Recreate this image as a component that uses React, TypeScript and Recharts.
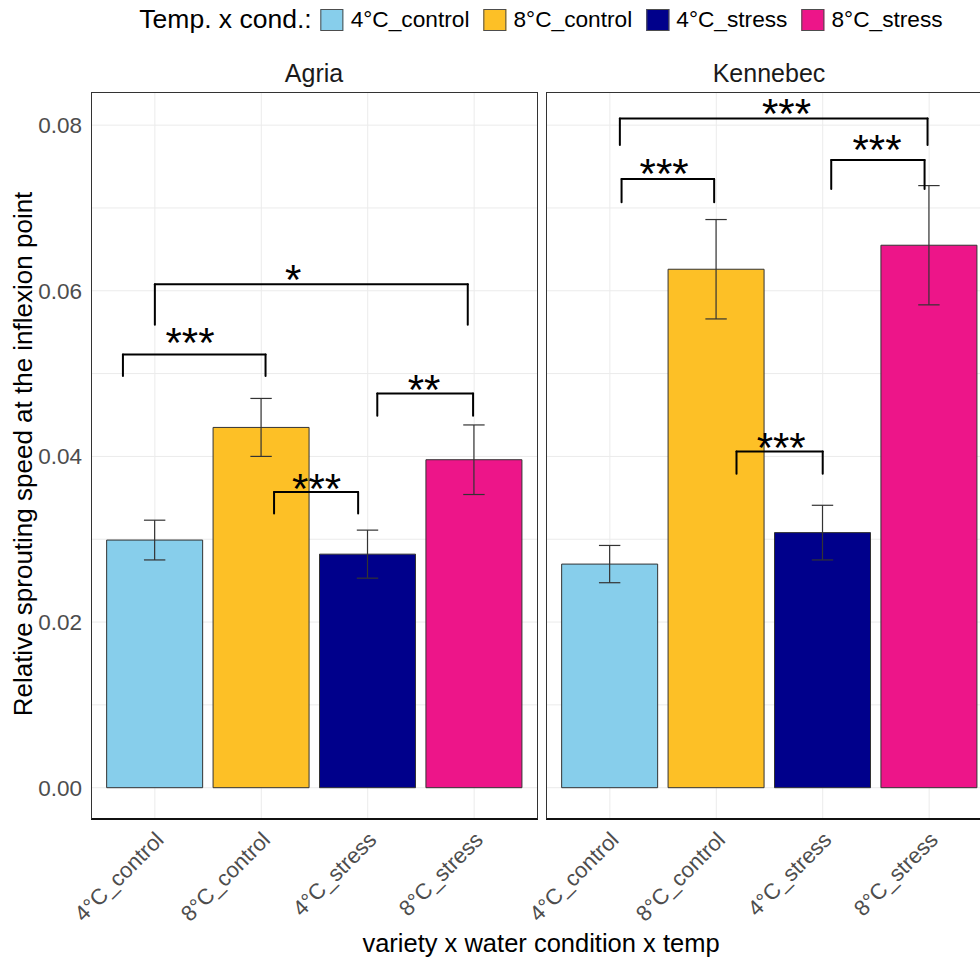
import * as React from "react";
import {
  ComposedChart, Bar, Cell, ErrorBar, XAxis, YAxis, CartesianGrid, ReferenceLine, ReferenceDot,
} from "recharts";

const FONT = "'Liberation Sans', Arial, Helvetica, sans-serif";

const categories = ["4°C_control", "8°C_control", "4°C_stress", "8°C_stress"];
const fills = ["#87CEEB", "#FDC026", "#00008B", "#ED1589"];

const agriaMean = [0.0299, 0.0435, 0.0282, 0.0396];
const agriaSe = [0.0024, 0.0035, 0.0029, 0.0042];
const kennebecMean = [0.027, 0.0626, 0.0308, 0.0655];
const kennebecSe = [0.00225, 0.006, 0.0033, 0.0072];

const yTicks = [0, 0.02, 0.04, 0.06, 0.08];
const yGrid = [0, 0.01, 0.02, 0.03, 0.04, 0.05, 0.06, 0.07, 0.08];

// significance brackets (x in category units, y in data units)
const agriaFrom = [-0.3, 0, 1.12, 2.09];
const agriaTo = [1.04, 2.94, 1.91, 2.99];
const agriaTop = [0.0523, 0.0608, 0.0357, 0.0476];
const agriaTip = [0.0497, 0.0559, 0.0331, 0.0449];
const agriaStars = ["***", "*", "***", "**"];
const agriaStarX = [0.33, 1.3, 1.52, 2.53];
const agriaStarY = [0.0535, 0.061, 0.0358, 0.0478];

const kennebecFrom = [0.094, 0.11, 2.08, 1.19];
const kennebecTo = [2.985, 0.98, 2.957, 2.0];
const kennebecTop = [0.0808, 0.0735, 0.0758, 0.0406];
const kennebecTip = [0.0776, 0.0707, 0.0723, 0.0379];
const kennebecStars = ["***", "***", "***", "***"];
const kennebecStarX = [1.66, 0.51, 2.51, 1.61];
const kennebecStarY = [0.0811, 0.0738, 0.0768, 0.0408];

const PLOT_TOP = 92;
const PLOT_W = 447;
const PLOT_H = 728;
const AXIS_W = 91;
const XAXIS_H = 120;
const TOP_PAD = 40; // headroom so the star labels are not clipped by the svg
const K_PAD = 70; // room on the left of the 2nd panel so its tick labels aren't clipped

function XTick(props: any) {
  const { x, y, payload } = props;
  const ax = x - 1;
  const ay = y + 2;
  return (
    <text
      x={ax}
      y={ay}
      dy="0.72em"
      textAnchor="end"
      transform={`rotate(-45, ${ax}, ${ay})`}
      fill="#4D4D4D"
      fontSize={22}
      fontFamily={FONT}
    >
      {categories[payload.value]}
    </text>
  );
}

type PanelProps = {
  means: number[];
  ses: number[];
  from: number[];
  to: number[];
  top: number[];
  tip: number[];
  stars: string[];
  starX: number[];
  starY: number[];
  showY: boolean;
};

function Panel({ means, ses, from, to, top, tip, stars, starX, starY, showY }: PanelProps) {
  const data = categories.map((c, i) => ({ x: i, name: c, mean: means[i], se: ses[i] }));
  const lineProps = { stroke: "#000", strokeWidth: 2, strokeLinecap: "round" as const, ifOverflow: "visible" as const };
  const padLeft = showY ? 0 : K_PAD;
  return (
    <ComposedChart
      width={(showY ? AXIS_W : 0) + padLeft + PLOT_W}
      height={TOP_PAD + PLOT_H + XAXIS_H}
      data={data}
      margin={{ top: TOP_PAD, right: 0, bottom: 0, left: padLeft }}
    >
      <CartesianGrid stroke="#EBEBEB" strokeWidth={1} horizontalValues={yGrid} verticalValues={[0, 1, 2, 3]} />
      <XAxis
        dataKey="x"
        type="number"
        domain={[-0.6, 3.6]}
        ticks={[0, 1, 2, 3]}
        interval={0}
        allowDataOverflow
        axisLine={false}
        tickLine={false}
        height={XAXIS_H}
        tick={<XTick />}
      />
      <YAxis
        type="number"
        domain={[-0.0039, 0.084]}
        ticks={yTicks}
        allowDataOverflow
        hide={!showY}
        width={AXIS_W}
        axisLine={false}
        tickLine={false}
        tickSize={4}
        tickMargin={5}
        tickFormatter={(v: number) => v.toFixed(2)}
        tick={{ fill: "#4D4D4D", fontSize: 22.5, fontFamily: FONT }}
      />
      <Bar dataKey="mean" barSize={96} stroke="#333" strokeWidth={1} isAnimationActive={false}>
        {data.map((d, i) => (
          <Cell key={d.name} fill={fills[i]} />
        ))}
        <ErrorBar dataKey="se" direction="y" width={10.7} stroke="#333" strokeWidth={1.2} />
      </Bar>
      {from.map((f, i) => (
        <React.Fragment key={"b" + i}>
          <ReferenceLine segment={[{ x: f, y: tip[i] }, { x: f, y: top[i] }]} {...lineProps} />
          <ReferenceLine segment={[{ x: f, y: top[i] }, { x: to[i], y: top[i] }]} {...lineProps} />
          <ReferenceLine segment={[{ x: to[i], y: top[i] }, { x: to[i], y: tip[i] }]} {...lineProps} />
          <ReferenceDot
            x={starX[i]}
            y={starY[i]}
            r={0}
            fill="none"
            stroke="none"
            ifOverflow="visible"
            label={{ value: stars[i], position: "top", offset: -12, fontSize: 42, fill: "#000", fontFamily: FONT }}
          />
        </React.Fragment>
      ))}
    </ComposedChart>
  );
}

function Legend() {
  return (
    <div
      style={{
        position: "absolute",
        top: 4,
        left: 541,
        transform: "translateX(-50%)",
        display: "flex",
        alignItems: "center",
        whiteSpace: "nowrap",
        fontFamily: FONT,
        color: "#000",
      }}
    >
      <span style={{ fontSize: 26.5, marginRight: 9 }}>Temp. x cond.:</span>
      {categories.map((c, i) => (
        <React.Fragment key={c}>
          <span
            style={{
              display: "inline-block",
              width: 23,
              height: 22,
              boxSizing: "border-box",
              background: fills[i],
              border: "1px solid #4D4D4D",
              marginRight: 7,
            }}
          />
          <span style={{ fontSize: 22.7, marginRight: i < 3 ? 14 : 0 }}>{c}</span>
        </React.Fragment>
      ))}
    </div>
  );
}

const panelBorder: React.CSSProperties = {
  position: "absolute",
  top: PLOT_TOP,
  width: PLOT_W,
  height: PLOT_H,
  boxSizing: "border-box",
  border: "1px solid #333",
  borderBottom: "2px solid #111",
  pointerEvents: "none",
};

export default function App() {
  return (
    <div
      style={{
        position: "absolute",
        left: 0,
        top: 0,
        width: 980,
        height: 959,
        overflow: "hidden",
        background: "#fff",
        fontFamily: FONT,
      }}
    >
      <Legend />
      <div style={{ position: "absolute", left: 0, top: PLOT_TOP - TOP_PAD }}>
        <Panel
          means={agriaMean}
          ses={agriaSe}
          from={agriaFrom}
          to={agriaTo}
          top={agriaTop}
          tip={agriaTip}
          stars={agriaStars}
          starX={agriaStarX}
          starY={agriaStarY}
          showY
        />
      </div>
      <div style={{ position: "absolute", left: 546 - K_PAD, top: PLOT_TOP - TOP_PAD }}>
        <Panel
          means={kennebecMean}
          ses={kennebecSe}
          from={kennebecFrom}
          to={kennebecTo}
          top={kennebecTop}
          tip={kennebecTip}
          stars={kennebecStars}
          starX={kennebecStarX}
          starY={kennebecStarY}
          showY={false}
        />
      </div>
      <div style={{ ...panelBorder, left: AXIS_W }} />
      <div style={{ ...panelBorder, left: 546 }} />
      <svg width={980} height={959} style={{ position: "absolute", left: 0, top: 0, pointerEvents: "none" }}>
        <text x={314} y={82} textAnchor="middle" fontSize={25} fill="#1A1A1A" fontFamily={FONT}>Agria</text>
        <text x={769} y={82} textAnchor="middle" fontSize={25} fill="#1A1A1A" fontFamily={FONT}>Kennebec</text>
        <text x={541} y={952} textAnchor="middle" fontSize={25.5} fill="#000" fontFamily={FONT}>
          variety x water condition x temp
        </text>
        <text
          x={32}
          y={454}
          textAnchor="middle"
          transform="rotate(-90, 32, 454)"
          fontSize={26}
          fill="#000"
          fontFamily={FONT}
        >
          Relative sprouting speed at the inflexion point
        </text>
      </svg>
    </div>
  );
}
